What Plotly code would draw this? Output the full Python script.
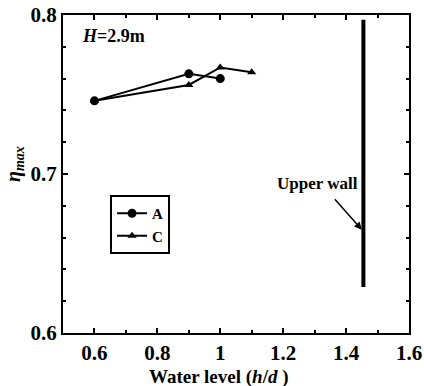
import plotly.graph_objects as go

# Data
x_A = [0.6, 0.9, 1.0]
y_A = [0.746, 0.763, 0.760]
x_C = [0.6, 0.9, 1.0, 1.1]
y_C = [0.746, 0.756, 0.767, 0.764]
wall_x = [1.455, 1.455]
wall_y = [0.629, 0.797]

FONT = "Liberation Serif, Times New Roman, serif"

fig = go.Figure()
fig.add_trace(go.Scatter(x=x_A, y=y_A, mode="lines+markers", name="<b>A</b>",
                         line=dict(color="black", width=2),
                         marker=dict(symbol="circle", size=9, color="black")))
fig.add_trace(go.Scatter(x=x_C, y=y_C, mode="lines+markers", name="<b>C</b>",
                         line=dict(color="black", width=2),
                         marker=dict(symbol="triangle-up", size=8, color="black")))
fig.add_trace(go.Scatter(x=wall_x, y=wall_y, mode="lines", showlegend=False,
                         line=dict(color="black", width=4)))

fig.add_annotation(x=1.45, y=0.665, ax=1.36, ay=0.685, xref="x", yref="y",
                   axref="x", ayref="y", showarrow=True, arrowhead=2, arrowsize=1,
                   arrowwidth=1.5, arrowcolor="black", text="")
fig.add_annotation(x=1.445, y=0.687, xref="x", yref="y", text="<b>Upper wall</b>",
                   showarrow=False, font=dict(family=FONT, size=17, color="black"),
                   xanchor="right", yanchor="bottom")
fig.add_annotation(x=0.555, y=0.787, xref="x", yref="y", text="<b><i>H</i>=2.9m</b>",
                   showarrow=False, font=dict(family=FONT, size=18, color="black"),
                   xanchor="left", yanchor="middle")
# axis titles
fig.add_annotation(x=0.45, y=-0.137, xref="paper", yref="paper",
                   text="<b>Water level (<i>h</i>/<i>d</i> )</b>", showarrow=False,
                   font=dict(family=FONT, size=19, color="black"),
                   xanchor="center", yanchor="middle")
fig.add_annotation(x=-0.14, y=0.53, xref="paper", yref="paper",
                   text="<b><i>η</i><sub><i>max</i></sub></b>", showarrow=False,
                   textangle=-90, font=dict(family=FONT, size=20, color="black"),
                   xanchor="center", yanchor="middle")

axis_common = dict(showgrid=False, zeroline=False, showline=True, linecolor="black",
                   linewidth=2, mirror="ticks", ticks="inside", ticklen=5,
                   tickcolor="black", tickwidth=1.5, automargin=False,
                   tickfont=dict(family=FONT, size=21, color="black"))

fig.update_xaxes(range=[0.5, 1.6], tickvals=[0.6, 0.8, 1.0, 1.2, 1.4, 1.6],
                 ticktext=["<b>0.6</b>", "<b>0.8</b>", "<b>1</b>", "<b>1.2</b>", "<b>1.4</b>", "<b>1.6</b>"],
                 minor=dict(dtick=0.1, ticks="inside", ticklen=3, tickcolor="black"),
                 ticklabelstandoff=0,
                 **axis_common)
fig.update_yaxes(range=[0.6, 0.8], tickvals=[0.6, 0.7, 0.8],
                 ticktext=["<b>0.6</b>", "<b>0.7</b>", "<b>0.8</b>"],
                 minor=dict(dtick=0.02, ticks="inside", ticklen=3, tickcolor="black"),
                 **axis_common)

fig.update_layout(
    width=424, height=386,
    margin=dict(l=63, r=15, t=15, b=53),
    paper_bgcolor="white", plot_bgcolor="white",
    legend=dict(x=0.136, y=0.434, xanchor="left", yanchor="top",
                bordercolor="black", borderwidth=2, bgcolor="white",
                font=dict(family=FONT, size=15, color="black"),
                tracegroupgap=0, itemwidth=30),
)

fig.write_html("out.html")
